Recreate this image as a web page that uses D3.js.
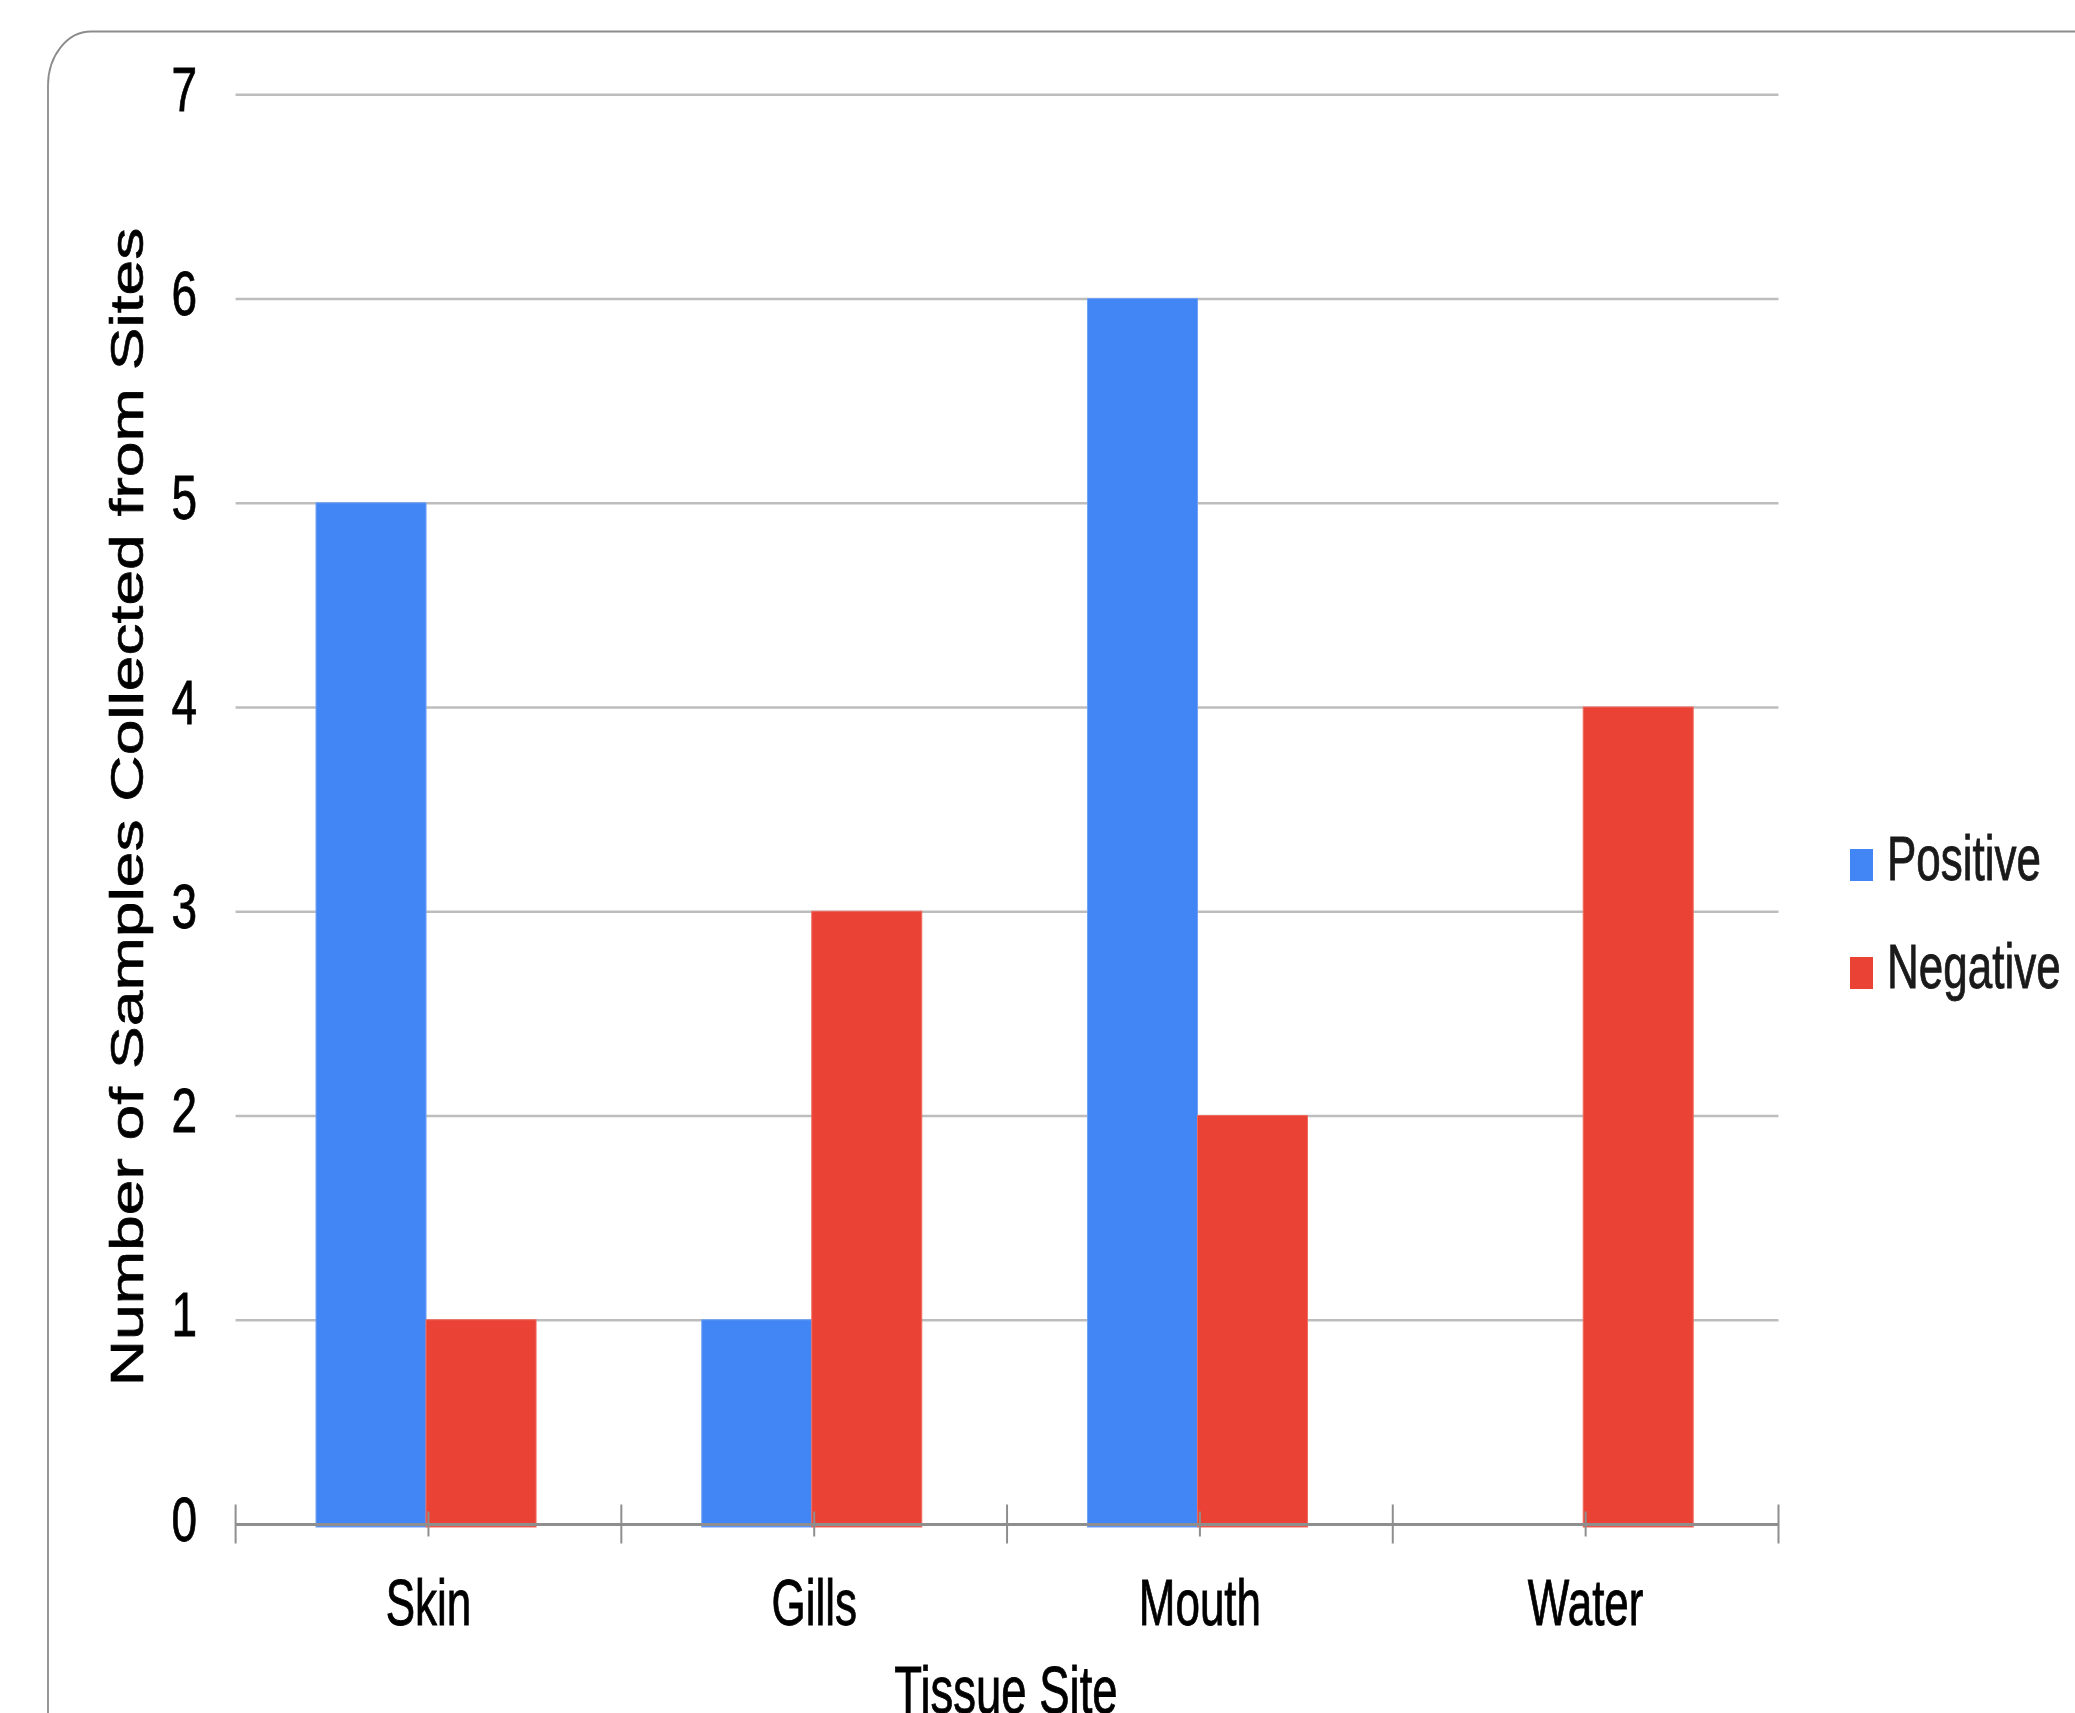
<!DOCTYPE html>
<html>
<head>
<meta charset="utf-8">
<script src="https://cdn.jsdelivr.net/npm/d3@7"></script>
<style>
  html, body { margin: 0; padding: 0; background: #fff; }
  svg { display: block; }
  text { font-family: "Liberation Sans", Arial, sans-serif; fill: #000; stroke: #000; stroke-width: 0.6; }
</style>
</head>
<body>
<svg id="chart" width="2075" height="1713"></svg>
<script>
// Samples per tissue site, split by test result
const categories = ["Skin", "Gills", "Mouth", "Water"];
const seriesNames = ["Positive", "Negative"];
const positive = [5, 1, 6, 0];
const negative = [1, 3, 2, 4];
const yTicks = [0, 1, 2, 3, 4, 5, 6, 7];
const seriesColors = ["#4285f4", "#ea4335"];
const seriesEdges = ["#6fa1f6", "#ef6a5f"];
const xTitle = "Tissue Site";
const yTitle = "Number of Samples Collected from Sites";

const plot = { left: 235.6, right: 1778.5, top: 94.3, bottom: 1524 };

const svg = d3.select("#chart");

// Rounded frame running off the right and bottom edges
svg.append("rect")
  .attr("x", 48).attr("y", 31.5)
  .attr("width", 2300).attr("height", 2000)
  .attr("rx", 43).attr("ry", 54)
  .attr("fill", "none")
  .attr("stroke", "#8c8c8c")
  .attr("stroke-width", 1.8);

const x0 = d3.scaleBand().domain(categories).range([plot.left, plot.right]).padding(0);
const bw = x0.bandwidth();
const x1 = d3.scaleBand().domain(seriesNames).range([bw * 0.2085, bw * 0.7789]).padding(0);
const y = d3.scaleLinear().domain([0, 7]).range([plot.bottom, plot.top]);

// Horizontal gridlines
const grid = svg.append("g")
  .attr("transform", `translate(${plot.left},0)`)
  .call(d3.axisLeft(y).tickValues(yTicks.filter(d => d > 0))
    .tickSize(-(plot.right - plot.left)).tickFormat(""));
grid.select(".domain").remove();
grid.selectAll(".tick line").attr("stroke", "#bdbdbd").attr("stroke-width", 2.6);

// Y tick labels
svg.append("g").selectAll("text")
  .data(yTicks)
  .join("text")
  .attr("text-anchor", "end")
  .attr("font-size", 46)
  .attr("transform", d => `translate(197,${y(d) + 16.5}) scale(1,1.37)`)
  .text(d => d);

// Bars
const rows = categories.map((c, i) => ({ cat: c, vals: [positive[i], negative[i]] }));
const groups = svg.append("g").selectAll("g")
  .data(rows)
  .join("g")
  .attr("transform", d => `translate(${x0(d.cat)},0)`);
groups.selectAll("rect")
  .data(d => d.vals.filter(v => v > 0).length ? d.vals.map((v, k) => ({ key: seriesNames[k], v, k })).filter(e => e.v > 0) : [])
  .join("rect")
  .attr("x", d => x1(d.key))
  .attr("width", x1.bandwidth())
  .attr("y", d => y(d.v))
  .attr("height", d => y(0) - y(d.v) + 3)
  .attr("fill", d => seriesColors[d.k])
  .attr("stroke", d => seriesEdges[d.k])
  .attr("stroke-width", 1);

// X axis: baseline, short ticks at category centres, long ticks at band edges
const xAxis = svg.append("g")
  .attr("transform", `translate(0,${y(0)})`)
  .call(d3.axisBottom(x0).tickSize(0).tickFormat(""));
xAxis.select(".domain").attr("stroke", "#8e8e8e").attr("stroke-width", 3);
xAxis.selectAll(".tick line").remove();
xAxis.selectAll(".tick").append("line")
  .attr("y1", -12.5).attr("y2", 12.5)
  .attr("stroke", "#8e8e8e").attr("stroke-width", 2);
const edges = categories.map(c => x0(c)).concat([x0.range()[1]]);
xAxis.append("g").selectAll("line")
  .data(edges)
  .join("line")
  .attr("x1", d => d).attr("x2", d => d)
  .attr("y1", -19.5).attr("y2", 19.5)
  .attr("stroke", "#8e8e8e").attr("stroke-width", 2);

// Category labels
svg.append("g").selectAll("text")
  .data(categories)
  .join("text")
  .attr("text-anchor", "middle")
  .attr("font-size", 44)
  .attr("transform", d => `translate(${x0(d) + bw / 2},1625) scale(1,1.48)`)
  .text(d => d);

// Axis titles
svg.append("text")
  .attr("text-anchor", "middle")
  .attr("font-size", 45.5)
  .attr("transform", `translate(1006,1713) scale(1,1.45)`)
  .text(xTitle);

svg.append("text")
  .attr("text-anchor", "middle")
  .attr("font-size", 46)
  .attr("transform", `translate(143,807) rotate(-90) scale(1.395,1)`)
  .text(yTitle);

// Legend
const legend = svg.append("g").selectAll("g")
  .data(seriesNames)
  .join("g")
  .attr("transform", (d, i) => `translate(1850,${[881, 989][i]})`);
legend.append("rect")
  .attr("x", 0).attr("y", -32)
  .attr("width", 23).attr("height", 32)
  .attr("fill", (d, i) => seriesColors[i]);
legend.append("text")
  .attr("x", 0).attr("y", 0)
  .attr("font-size", 44)
  .attr("transform", "translate(37,-1) scale(1,1.43)")
  .style("fill", "#1a1a1a")
  .style("stroke", "#1a1a1a")
  .text(d => d);
</script>
</body>
</html>
